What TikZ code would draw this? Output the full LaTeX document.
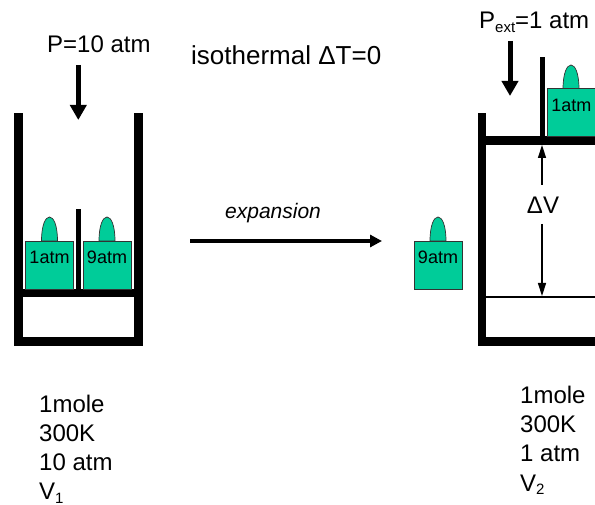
\documentclass[tikz,border=0pt]{standalone}
\usepackage{xcolor}
\usepackage{fontspec}
\setmainfont{Liberation Sans}
\definecolor{weightgreen}{RGB}{0,204,153}
\usetikzlibrary{arrows.meta,calc}
\tikzset{
    wall/.style={fill=black, draw=none},
    weightbox/.style={draw=black!80, fill=weightgreen, line width=0.7pt, minimum width=48pt, minimum height=48pt, inner sep=0pt, text depth=15pt, font=\fontsize{18}{20}\selectfont},
    knob/.style={draw=black!80, fill=weightgreen, line width=0.7pt},
    label/.style={inner sep=0pt, font=\fontsize{24}{28}\selectfont},
    info/.style={inner sep=0pt, align=left, anchor=north west, font=\fontsize{24}{29.2}\selectfont},
    bigarrow/.style={line width=5pt, -{Triangle[width=16pt,length=15pt]}},
    thinarrow/.style={line width=1.5pt, -{Triangle[width=8pt,length=13pt]}}
}
\newcommand{\subtxt}[1]{\raisebox{-3.5pt}{\fontsize{15}{16}\selectfont #1}}
\begin{document}
\begin{tikzpicture}[x=1pt, y=-1pt]
    \useasboundingbox (0,0) rectangle (595,505);

    % Left cylinder
    \fill[wall] (13.5,112.7) rectangle (22.5,345.7);
    \fill[wall] (133.5,112.7) rectangle (142.5,345.7);
    \fill[wall] (13.5,336.7) rectangle (142.5,345.7);
    \fill[wall] (22.5,289) rectangle (133.5,297);
    \fill[wall] (75.5,209) rectangle (80.5,289);

    % Right cylinder, cut off by the page
    \fill[wall] (477.7,112.7) rectangle (486.3,345.7);
    \fill[wall] (477.7,336.7) rectangle (595,345.7);
    \fill[wall] (486.3,136.3) rectangle (595,145);
    \fill[wall] (539.5,57) rectangle (544.5,136.3);
    \draw[line width=1.5pt] (486.3,296.8) -- (595,296.8);

    % Knobs on top of the weights
    \foreach \kx/\ky in {49.5/241, 107/241, 571/89, 438/241} {
        \draw[knob] (\kx-8,\ky) .. controls (\kx-8,\ky-16) and (\kx-4,\ky-24) .. (\kx,\ky-24)
            .. controls (\kx+4,\ky-24) and (\kx+8,\ky-16) .. (\kx+8,\ky) -- cycle;
    }

    % Weights
    \node[weightbox] (w1left) at (49.5,265) {1atm};
    \node[weightbox] (w9left) at (107,265) {9atm};
    \node[weightbox] (w1right) at (571.3,112.7) {1atm};
    \node[weightbox] (w9off) at (438,265) {9atm};

    % Labels
    \node[label, anchor=base west] (pleft) at (47,52.5) {P=10 atm};
    \node[label, anchor=base west, font=\fontsize{26}{30}\selectfont] (title) at (191,65) {isothermal ΔT=0};
    \node[label, anchor=base west] (pright) at (479,29) {P\subtxt{ext}=1 atm};
    \node[label, anchor=base west, font=\fontsize{21}{24}\selectfont\itshape] (expand) at (225,218.3) {expansion};
    \node[label] (dv) at (543,205) {ΔV};

    % Arrows
    \coordinate (pleftend) at (78.3,120);
    \coordinate (prightend) at (510,96);
    \coordinate (expstart) at (190,241);
    \coordinate (expend) at (382,241);
    \coordinate (dvtop) at (542,145);
    \coordinate (dvbottom) at (542,296);
    \draw[bigarrow] (78.3,65) -- (pleftend);
    \draw[bigarrow] (510,41) -- (prightend);
    \draw[line width=3.2pt, -{Triangle[width=12pt,length=12pt]}] (expstart) -- (expend);
    \draw[thinarrow] (542,185) -- (dvtop);
    \draw[thinarrow] (542,224) -- (dvbottom);

    % State of the gas
    \node[info] (stateleft) at (39,394.5) {1mole\\300K\\10 atm\\V\subtxt{1}};
    \node[info] (stateright) at (520,386) {1mole\\300K\\1 atm\\V\subtxt{2}};
\end{tikzpicture}
\end{document}
